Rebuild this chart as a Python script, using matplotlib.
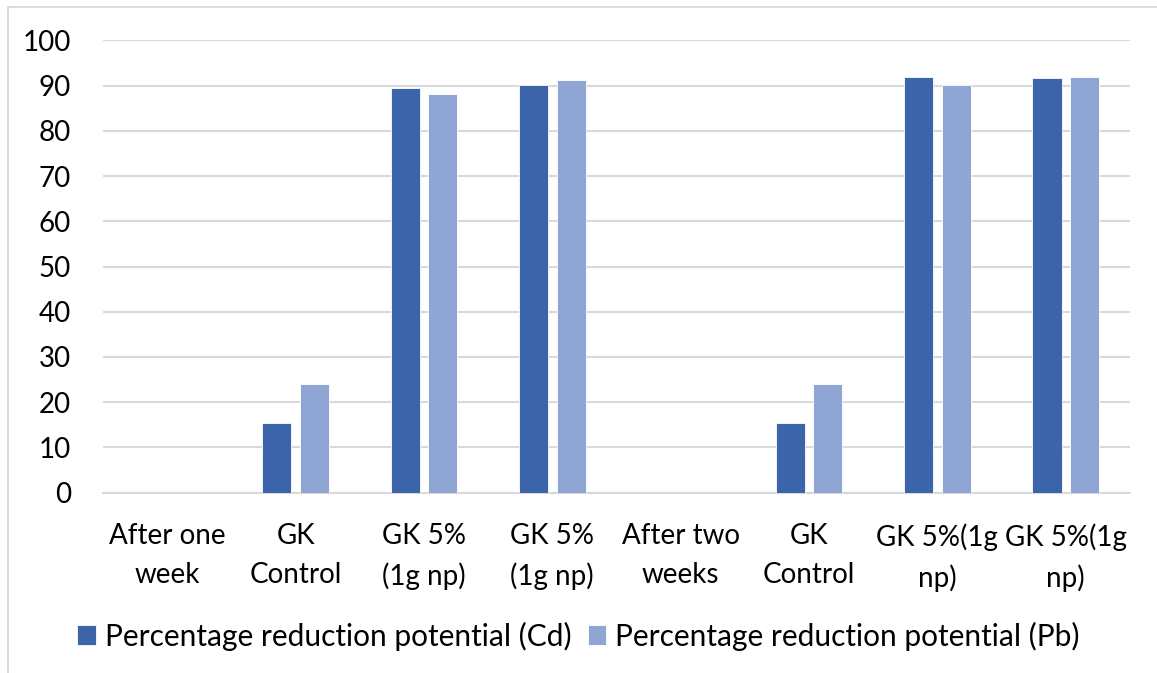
import numpy as np
import matplotlib
matplotlib.use("Agg")
import matplotlib.pyplot as plt
from matplotlib.lines import Line2D

plt.rcParams['font.family'] = ['Lato', 'DejaVu Sans']

categories = ["After one\nweek", "GK\nControl", "GK 5%\n(1g np)", "GK 5%\n(1g np)",
              "After two\nweeks", "GK\nControl", "GK 5%(1g\nnp)", "GK 5%(1g\nnp)"]
cd = [0, 15.5, 89.4, 90.2, 0, 15.5, 92.0, 91.7]
pb = [0, 24.0, 88.2, 91.2, 0, 24.0, 90.2, 92.0]
series_names = ["Percentage reduction potential (Cd)", "Percentage reduction potential (Pb)"]

CD_COLOR = "#3c64ab"
PB_COLOR = "#8fa5d4"
GRID = "#d9d9d9"

fig = plt.figure(figsize=(11.57, 6.73), dpi=100)
ax = fig.add_axes([0.0890, 0.2679, 0.8876, 0.6722])

x = np.arange(len(categories))
w = 0.226
ax.bar(x - 0.146, cd, w, color=CD_COLOR, edgecolor="white", linewidth=0.6, label=series_names[0], zorder=3)
ax.bar(x + 0.146, pb, w, color=PB_COLOR, edgecolor="white", linewidth=0.6, label=series_names[1], zorder=3)

ax.set_xlim(-0.5, len(categories) - 0.5)
ax.set_ylim(0, 100)
ax.set_yticks(range(0, 101, 10))
ax.yaxis.grid(True, color=GRID, linewidth=1.5, zorder=0)
ax.set_axisbelow(True)
for s in ["top", "right", "left"]:
    ax.spines[s].set_visible(False)
ax.spines["bottom"].set_color(GRID)
ax.spines["bottom"].set_linewidth(1.5)
ax.tick_params(axis="both", length=0, labelsize=20, colors="black")
ax.tick_params(axis="y", pad=23)
ax.tick_params(axis="x", pad=22)
ax.set_xticks(x)
ax.set_xticklabels(categories, linespacing=1.6)

fig.legend(loc="center", bbox_to_anchor=(0.5, 0.055), ncol=2, frameon=False,
           fontsize=21.5, handlelength=0.62, handleheight=0.62, handletextpad=0.3,
           columnspacing=0.55)

# chart area border (left and top edges visible)
fig.add_artist(Line2D([0.0065, 0.0065, 1.0], [0.0, 0.9895, 0.9895],
                      transform=fig.transFigure, color=GRID, linewidth=1.3))

fig.savefig("out.png", dpi=100)
